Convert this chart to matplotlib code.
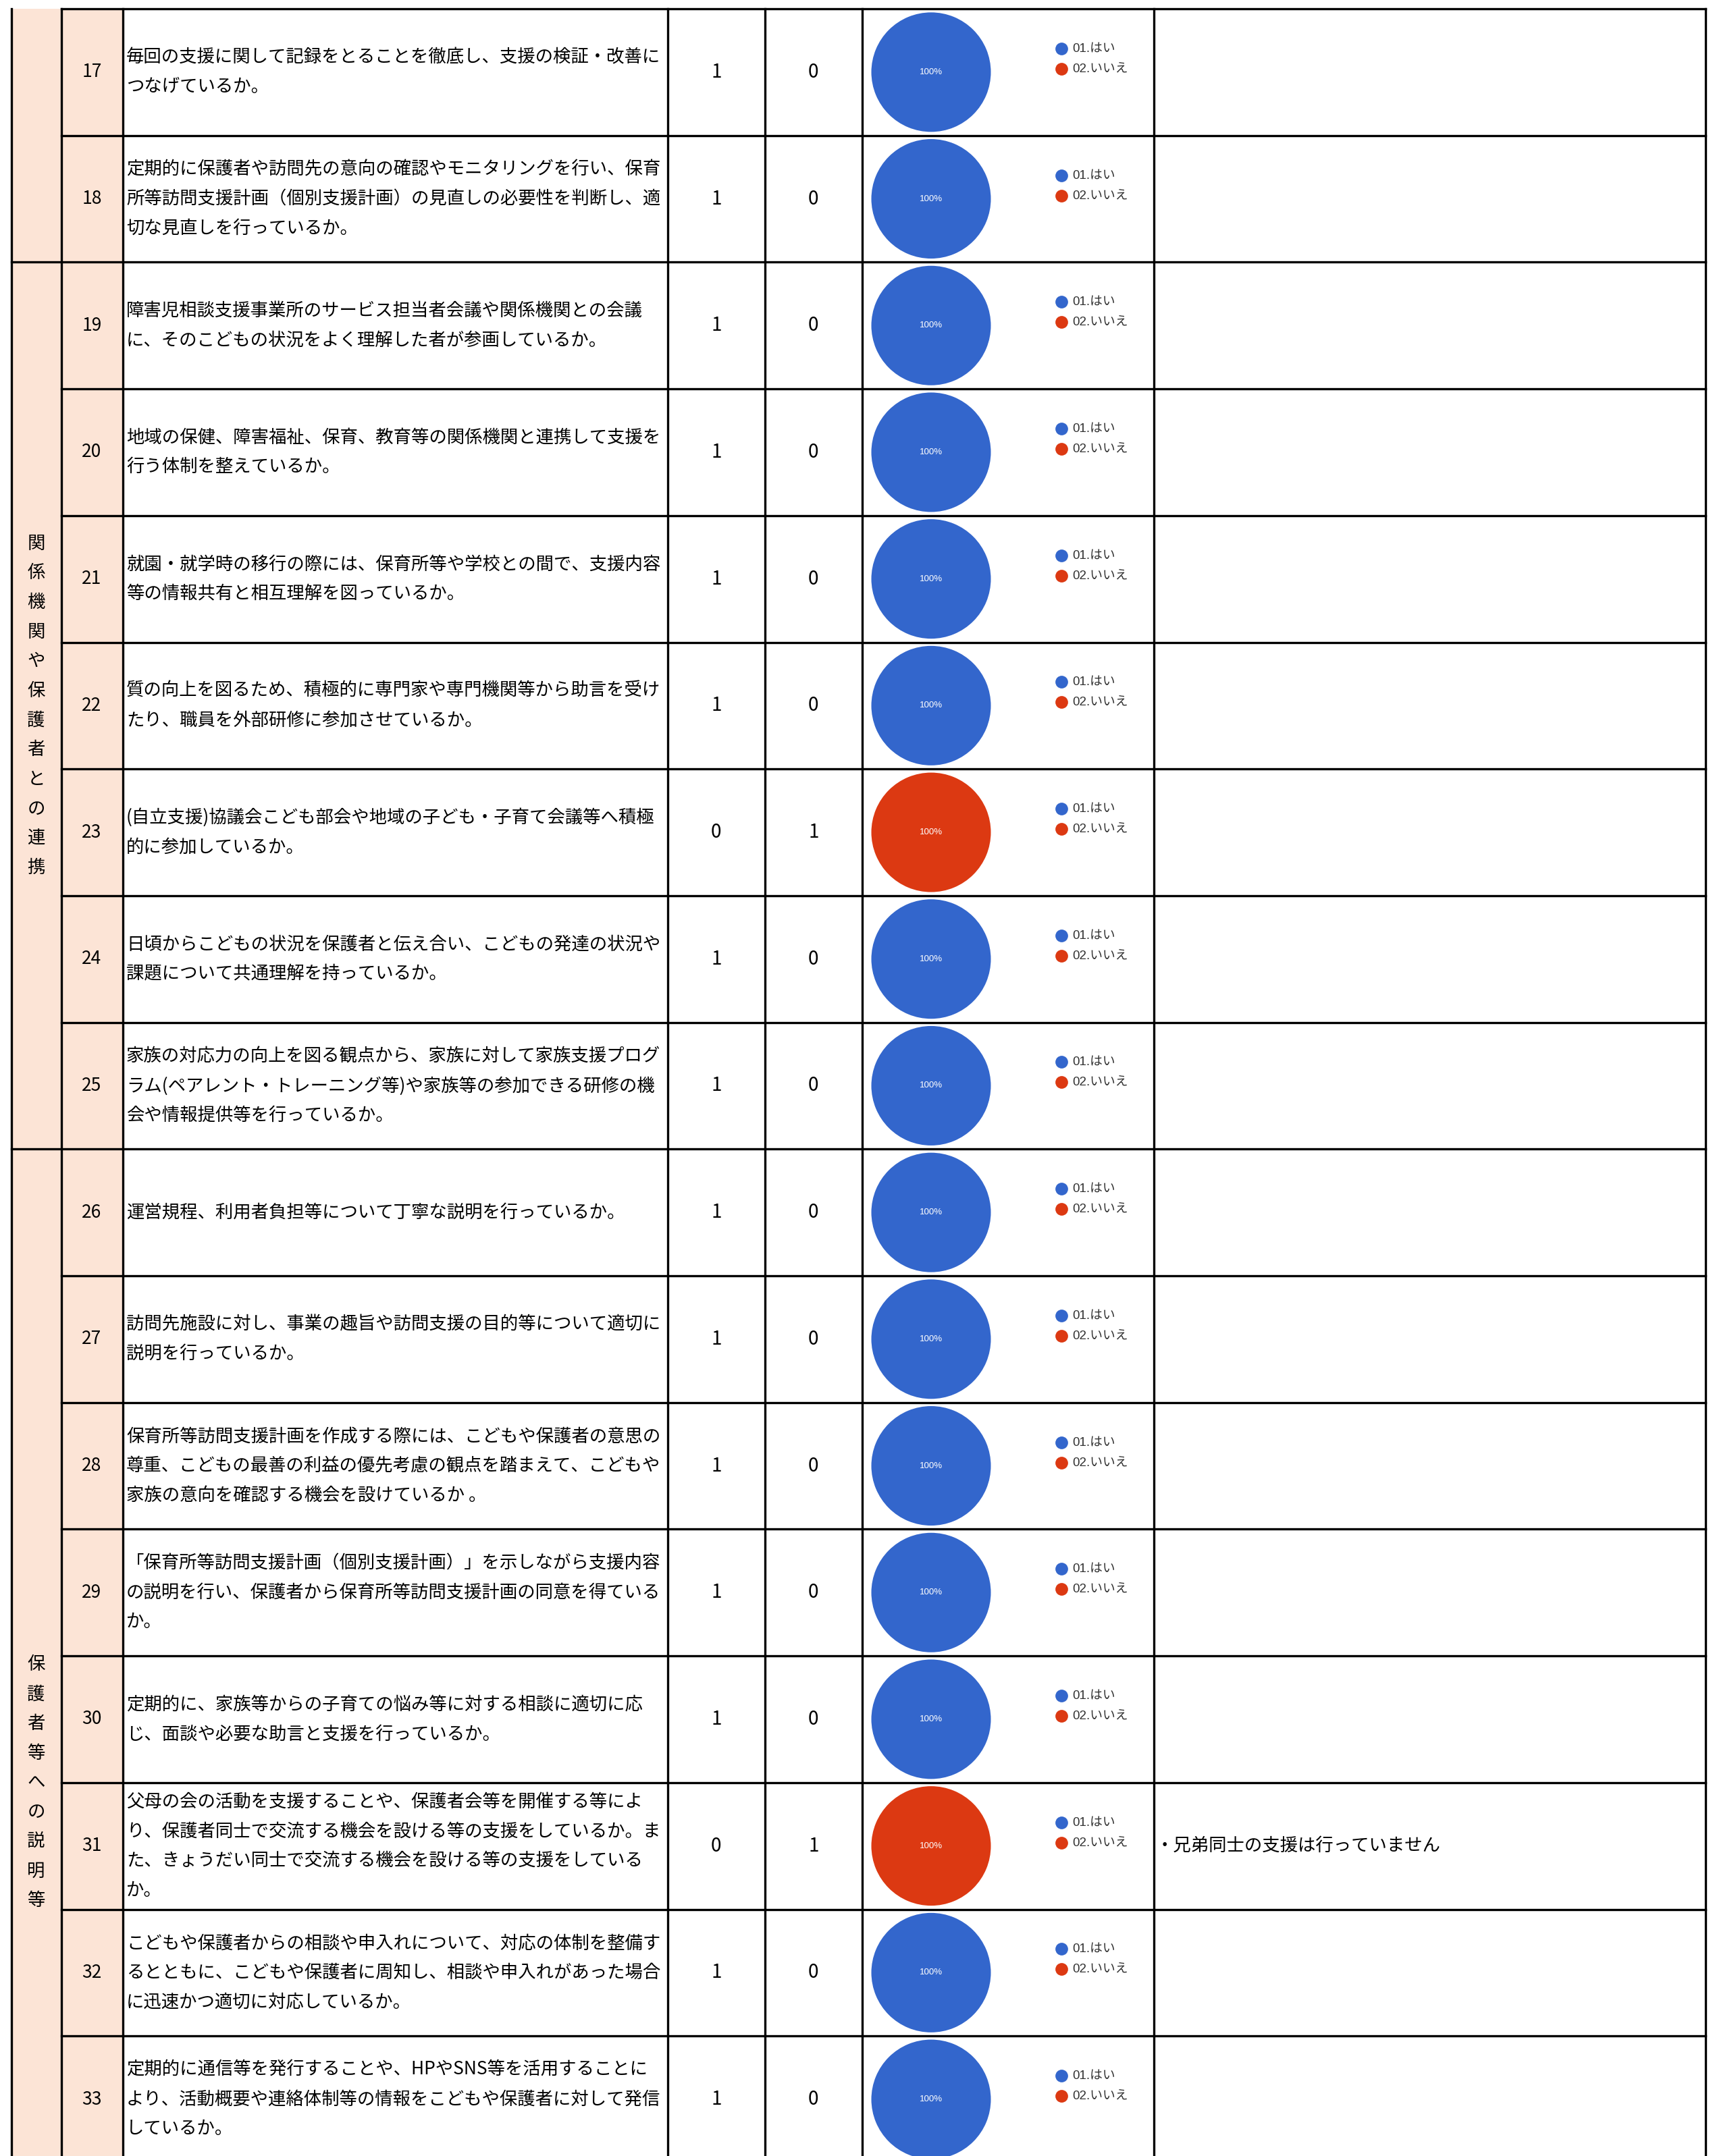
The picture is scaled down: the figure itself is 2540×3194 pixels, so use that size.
from matplotlib import pyplot as plt
from matplotlib.patches import Rectangle

plt.rcParams['font.family'] = ['Noto Sans CJK JP', 'DejaVu Sans']

# data
row_nos = list(range(17, 34))
questions = [
    ["毎回の支援に関して記録をとることを徹底し、支援の検証・改善に", "つなげているか。"],
    ["定期的に保護者や訪問先の意向の確認やモニタリングを行い、保育",
     "所等訪問支援計画（個別支援計画）の見直しの必要性を判断し、適",
     "切な見直しを行っているか。"],
    ["障害児相談支援事業所のサービス担当者会議や関係機関との会議",
     "に、そのこどもの状況をよく理解した者が参画しているか。"],
    ["地域の保健、障害福祉、保育、教育等の関係機関と連携して支援を",
     "行う体制を整えているか。"],
    ["就園・就学時の移行の際には、保育所等や学校との間で、支援内容",
     "等の情報共有と相互理解を図っているか。"],
    ["質の向上を図るため、積極的に専門家や専門機関等から助言を受け",
     "たり、職員を外部研修に参加させているか。"],
    ["(自立支援)協議会こども部会や地域の子ども・子育て会議等へ積極",
     "的に参加しているか。"],
    ["日頃からこどもの状況を保護者と伝え合い、こどもの発達の状況や",
     "課題について共通理解を持っているか。"],
    ["家族の対応力の向上を図る観点から、家族に対して家族支援プログ",
     "ラム(ペアレント・トレーニング等)や家族等の参加できる研修の機",
     "会や情報提供等を行っているか。"],
    ["運営規程、利用者負担等について丁寧な説明を行っているか。"],
    ["訪問先施設に対し、事業の趣旨や訪問支援の目的等について適切に",
     "説明を行っているか。"],
    ["保育所等訪問支援計画を作成する際には、こどもや保護者の意思の",
     "尊重、こどもの最善の利益の優先考慮の観点を踏まえて、こどもや",
     "家族の意向を確認する機会を設けているか 。"],
    ["「保育所等訪問支援計画（個別支援計画）」を示しながら支援内容",
     "の説明を行い、保護者から保育所等訪問支援計画の同意を得ている",
     "か。"],
    ["定期的に、家族等からの子育ての悩み等に対する相談に適切に応",
     "じ、面談や必要な助言と支援を行っているか。"],
    ["父母の会の活動を支援することや、保護者会等を開催する等によ",
     "り、保護者同士で交流する機会を設ける等の支援をしているか。ま",
     "た、きょうだい同士で交流する機会を設ける等の支援をしている",
     "か。"],
    ["こどもや保護者からの相談や申入れについて、対応の体制を整備す",
     "るとともに、こどもや保護者に周知し、相談や申入れがあった場合",
     "に迅速かつ適切に対応しているか。"],
    ["定期的に通信等を発行することや、HPやSNS等を活用することに",
     "より、活動概要や連絡体制等の情報をこどもや保護者に対して発信",
     "しているか。"],
]
yes_counts = [1, 1, 1, 1, 1, 1, 0, 1, 1, 1, 1, 1, 1, 1, 0, 1, 1]
no_counts  = [0, 0, 0, 0, 0, 0, 1, 0, 0, 0, 0, 0, 0, 0, 1, 0, 0]
comments = {31: "・兄弟同士の支援は行っていません"}
legend_labels = ["01.はい", "02.いいえ"]
pie_colors = ["#3366CC", "#DC3912"]
# category groups: (label, first row, last row) - last group continues below the crop
groups = [("関係機関や保護者との連携", 19, 25), ("保護者等への説明等", 26, 35)]

# layout (pixels)
W, H = 2540, 3194
top = 13.0
row_h = 187.7
col_x = [16.5, 90.5, 181.5, 988.5, 1133, 1276.5, 1708.5, 2525.5]
peach = '#FCE4D6'
lw = 2.4
fs = 19

fig = plt.figure(figsize=(W / 100, H / 100), dpi=100)
ax = fig.add_axes([0, 0, 1, 1])
ax.set_xlim(0, W)
ax.set_ylim(H, 0)
ax.axis('off')

# fills
ax.add_patch(Rectangle((col_x[0], top), col_x[2] - col_x[0], H - top, facecolor=peach, edgecolor='none', zorder=0))

def row_top(no):
    return top + (no - row_nos[0]) * row_h

# horizontal lines
group_starts = [g[1] for g in groups]
for no in row_nos:
    y = row_top(no)
    x0 = col_x[0] if no in group_starts else col_x[1]
    ax.plot([x0, col_x[-1]], [y, y], color='black', lw=lw, solid_capstyle='projecting', zorder=3)

# vertical lines
for x in col_x:
    ax.plot([x, x], [top, H], color='black', lw=lw, zorder=3)

# category labels (vertical)
for label, r0, r1 in groups:
    cy = (row_top(r0) + row_top(r1 + 1)) / 2
    step = 43.7
    y0 = cy - (len(label) - 1) * step / 2
    for i, ch in enumerate(label):
        ax.text((col_x[0] + col_x[1]) / 2, y0 + i * step, ch, ha='center', va='center', fontsize=fs, zorder=4)

line_gap = 43.6
r = 88.5
pie_cx = 1379
for i, no in enumerate(row_nos):
    cy = row_top(no) + row_h / 2
    ax.text((col_x[1] + col_x[2]) / 2, cy, str(no), ha='center', va='center', fontsize=fs, zorder=4)
    lines = questions[i]
    y0 = cy - (len(lines) - 1) * line_gap / 2
    for j, ln in enumerate(lines):
        ax.text(187, y0 + j * line_gap, ln, ha='left', va='center', fontsize=fs, zorder=4)
    ax.text((col_x[3] + col_x[4]) / 2, cy, str(yes_counts[i]), ha='center', va='center', fontsize=fs + 1, zorder=4)
    ax.text((col_x[4] + col_x[5]) / 2, cy, str(no_counts[i]), ha='center', va='center', fontsize=fs + 1, zorder=4)
    if no in comments:
        ax.text(1712, cy, comments[no], ha='left', va='center', fontsize=fs, zorder=4)

    # legend
    for k, (lab, c) in enumerate(zip(legend_labels, pie_colors)):
        ly = cy - 35 + k * 30
        ax.plot(1572, ly, 'o', ms=13.5, color=c, mec='none', zorder=5)
        ax.text(1588, ly, lab, ha='left', va='center', fontsize=13.5, color='#333333',
                family=['Liberation Sans', 'Noto Sans CJK JP'], zorder=5)

    # pie
    pax = fig.add_axes([(pie_cx - r) / W, 1 - (cy + r) / H, 2 * r / W, 2 * r / H])
    pax.pie([yes_counts[i], no_counts[i]], colors=pie_colors, startangle=90, counterclock=False,
            autopct=lambda p: '%.0f%%' % p if p > 0 else '', pctdistance=0,
            wedgeprops=dict(linewidth=0),
            textprops=dict(color='white', fontsize=9.5, family=['Liberation Sans', 'DejaVu Sans']))
    pax.set_xlim(-1, 1)
    pax.set_ylim(-1, 1)
    pax.axis('off')

fig.savefig('out.png', dpi=100)
